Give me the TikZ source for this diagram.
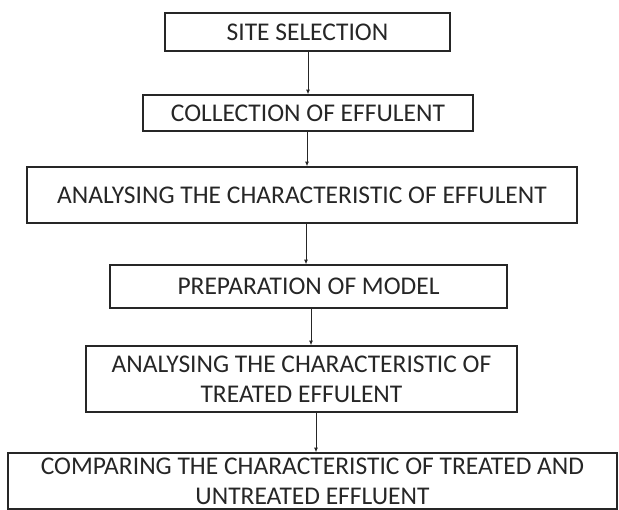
\documentclass[tikz,border=0pt]{standalone}
\usepackage{fontspec}
\setmainfont{Carlito}
\usetikzlibrary{arrows.meta}
\definecolor{txt}{HTML}{262626}
\definecolor{edge}{HTML}{262626}
\begin{document}
\begin{tikzpicture}[x=1pt,y=-1pt,
  box/.style={draw=edge,line width=1.6pt,rectangle,inner sep=0pt,align=center,
    text=txt,font=\fontsize{25.5}{30}\selectfont},
  arr/.style={draw=edge,line width=0.8pt,-{Latex[length=4.5pt,width=4pt]}}]
\useasboundingbox (0,0) rectangle (619,510);
\node[box,minimum width=285pt,minimum height=38pt] (b1) at (307.5,32) {SITE SELECTION};
\node[box,minimum width=330pt,minimum height=36pt] (b2) at (308,113) {COLLECTION OF EFFULENT};
\node[box,minimum width=550pt,minimum height=56pt] (b3) at (302,195) {ANALYSING THE CHARACTERISTIC OF EFFULENT};
\node[box,minimum width=397pt,minimum height=43pt] (b4) at (308.5,286.5) {PREPARATION OF MODEL};
\node[box,minimum width=431pt,minimum height=66pt] (b5) at (301.5,379) {ANALYSING THE CHARACTERISTIC OF\\TREATED EFFULENT};
\node[box,minimum width=609pt,minimum height=56pt] (b6) at (312.5,481) {COMPARING THE CHARACTERISTIC OF TREATED AND\\UNTREATED EFFLUENT};
\draw[arr] (b1.south -| 308,0) -- (b2.north -| 308,0);
\draw[arr] (b2.south -| 307,0) -- (b3.north -| 307,0);
\draw[arr] (b3.south -| 306,0) -- (b4.north -| 306,0);
\draw[arr] (b4.south -| 311,0) -- (b5.north -| 311,0);
\draw[arr] (b5.south -| 316,0) -- (b6.north -| 316,0);
\end{tikzpicture}
\end{document}
